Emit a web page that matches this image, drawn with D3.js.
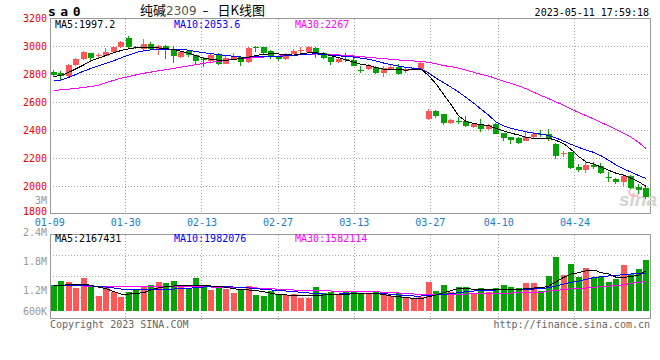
<!DOCTYPE html>
<html>
<head>
<meta charset="utf-8">
<script src="https://cdn.jsdelivr.net/npm/d3@7"></script>
<style>
body { margin: 0; background: #fff; }
text { font-family: "DejaVu Sans Mono", monospace; font-size: 10px; }
</style>
</head>
<body>
<script>
// trading days, 2023
const dates = [
  '01-09','01-10','01-11','01-12','01-13','01-16','01-17','01-18','01-19','01-20',
  '01-30','01-31','02-01','02-02','02-03','02-06','02-07','02-08','02-09','02-10',
  '02-13','02-14','02-15','02-16','02-17','02-20','02-21','02-22','02-23','02-24',
  '02-27','02-28','03-01','03-02','03-03','03-06','03-07','03-08','03-09','03-10',
  '03-13','03-14','03-15','03-16','03-17','03-20','03-21','03-22','03-23','03-24',
  '03-27','03-28','03-29','03-30','03-31','04-03','04-04','04-06','04-07','04-10',
  '04-11','04-12','04-13','04-14','04-17','04-18','04-19','04-20','04-21','04-24',
  '04-25','04-26','04-27','04-28','05-04','05-05','05-08','05-09','05-10','05-11'
]

const open = [2816,2810,2786,2864,2904,2950,2926,2932,2958,2992,
  3059,2993,2980,3016,2975,3000,2973,2922,2962,2933,
  2910,2895,2945,2872,2906,2919,2886,2992,2991,2962,
  2925,2904,2942,2966,2960,2986,2948,2919,2888,2907,
  2900,2830,2833,2848,2805,2836,2852,2821,2829,2833,
  2481,2538,2514,2448,2462,2464,2424,2443,2407,2443,
  2376,2348,2343,2321,2348,2374,2369,2300,2228,2240,
  2133,2114,2150,2143,2062,2050,2031,2071,1990,1983]
const high = [2829,2818,2874,2914,2962,2952,2952,2986,3000,3033,
  3074,3003,3050,3030,3010,3005,2998,2962,2966,2938,
  2919,2950,2952,2926,2952,2926,2990,3002,2996,2970,
  2930,2952,2978,2990,3002,2995,2955,2925,2919,2948,
  2928,2857,2871,2857,2857,2871,2871,2848,2852,2893,
  2550,2545,2514,2479,2495,2500,2452,2479,2443,2452,
  2380,2350,2348,2388,2388,2400,2405,2305,2252,2240,
  2157,2181,2169,2162,2098,2055,2083,2078,2014,1995]
const low = [2778,2756,2780,2860,2900,2888,2907,2928,2955,2988,
  2984,2980,2975,2970,2935,2908,2882,2917,2919,2862,
  2848,2879,2862,2870,2903,2858,2880,2960,2945,2906,
  2895,2900,2940,2945,2955,2912,2910,2864,2876,2888,
  2857,2810,2830,2800,2781,2830,2795,2805,2826,2826,
  2471,2488,2438,2445,2443,2419,2412,2386,2400,2371,
  2324,2300,2298,2318,2345,2348,2324,2193,2210,2119,
  2102,2095,2121,2083,2031,2012,2000,1980,1943,1910]
const close = [2795,2788,2866,2907,2958,2915,2935,2960,2995,3030,
  2992,2990,3015,2976,3000,2972,2932,2957,2933,2895,
  2898,2935,2872,2916,2930,2889,2984,2988,2951,2931,
  2904,2938,2965,2970,2996,2948,2917,2888,2907,2903,
  2860,2826,2860,2810,2840,2852,2800,2836,2843,2881,
  2538,2500,2452,2471,2460,2429,2443,2405,2436,2371,
  2345,2329,2307,2348,2371,2371,2340,2217,2233,2126,
  2114,2150,2133,2090,2058,2029,2074,1983,1971,1925]

const ma5 = [2783,2790,2812,2838,2865,2895,2914,2933,2952,2968,
  2980,2988,2990,2988,2986,2981,2975,2962,2948,2930,
  2912,2905,2898,2897,2905,2910,2920,2933,2940,2945,
  2943,2938,2935,2945,2952,2952,2945,2930,2917,2900,
  2885,2868,2862,2845,2835,2834,2830,2828,2830,2835,
  2788,2728,2652,2580,2500,2460,2447,2438,2432,2410,
  2394,2377,2364,2348,2339,2340,2342,2325,2303,2260,
  2210,2171,2157,2135,2112,2091,2077,2055,2030,1997]
const ma10 = [2752,2757,2776,2798,2821,2840,2860,2876,2895,2916,
  2935,2954,2966,2972,2975,2976,2976,2975,2970,2960,
  2952,2946,2938,2932,2927,2921,2921,2923,2925,2927,
  2928,2929,2933,2938,2942,2944,2940,2935,2930,2926,
  2921,2913,2905,2892,2878,2867,2856,2848,2841,2836,
  2806,2770,2738,2705,2670,2632,2592,2548,2505,2455,
  2430,2412,2399,2387,2377,2370,2360,2342,2320,2297,
  2276,2257,2240,2215,2184,2149,2122,2099,2074,2054]
const ma30 = [2683,2687,2692,2698,2704,2711,2720,2738,2755,2770,
  2782,2794,2805,2814,2823,2831,2840,2849,2858,2867,
  2876,2884,2891,2898,2905,2910,2914,2918,2921,2925,
  2928,2931,2934,2939,2942,2943,2941,2938,2936,2933,
  2929,2924,2919,2914,2910,2905,2900,2897,2893,2890,
  2883,2872,2860,2852,2842,2828,2812,2798,2785,2767,
  2748,2733,2716,2694,2670,2646,2624,2600,2576,2549,
  2525,2502,2479,2453,2429,2404,2377,2348,2311,2267]

// volume, thousands
const volume = [1205,1307,1284,1143,1378,1205,954,1151,1048,931,
  1048,1111,1182,1205,1284,1260,1307,1151,1127,1378,
  1205,1088,1151,1111,1025,1111,1182,970,954,1064,
  986,970,993,907,907,1151,1009,1048,986,1048,
  1048,1025,986,1041,1025,946,1009,931,876,931,
  1276,1072,1205,1048,1151,1151,1009,1127,1048,1127,
  1205,1151,1127,1253,1253,1072,1418,1873,1441,1700,
  1386,1598,1402,1418,1284,1347,1677,1465,1582,1794]
const vma5 = [1182,1198,1213,1221,1229,1198,1151,1119,1048,993,
  993,1009,1025,1088,1143,1166,1182,1190,1198,1198,
  1190,1182,1166,1151,1119,1088,1088,1072,1048,1009,
  978,970,962,954,946,962,970,970,978,986,
  1001,1009,1017,1009,978,946,931,907,891,883,
  931,970,1025,1072,1127,1127,1103,1088,1088,1088,
  1088,1088,1103,1119,1135,1135,1182,1284,1386,1465,
  1496,1543,1559,1496,1465,1386,1386,1402,1441,1543]
const vma10 = [1182,1182,1190,1190,1190,1182,1174,1158,1135,1111,
  1103,1095,1088,1088,1095,1103,1111,1119,1127,1143,
  1158,1166,1166,1166,1158,1151,1135,1119,1103,1088,
  1080,1064,1048,1033,1017,1001,993,993,993,1001,
  1009,1009,1009,1009,1001,986,970,954,946,946,
  954,970,986,1001,1025,1048,1064,1072,1080,1088,
  1088,1095,1103,1103,1111,1119,1143,1182,1229,1268,
  1300,1339,1378,1402,1418,1433,1449,1465,1465,1465]
const vma30 = [1190,1190,1190,1190,1182,1174,1166,1166,1166,1166,
  1166,1166,1166,1166,1174,1174,1174,1174,1174,1166,
  1166,1158,1158,1158,1151,1143,1135,1135,1127,1119,
  1103,1095,1088,1080,1080,1072,1072,1064,1064,1064,
  1064,1064,1056,1048,1033,1025,1017,1009,993,993,
  986,986,986,986,993,993,1001,1001,1009,1009,
  1017,1017,1025,1025,1025,1033,1064,1080,1095,1119,
  1127,1135,1151,1166,1182,1190,1213,1245,1268,1292]

const dateTicks = ['01-09','01-30','02-13','02-27','03-13','03-27','04-10','04-24']
const priceTicks = [3200, 3000, 2800, 2600, 2400, 2200, 2000, 1800]
const volTicks = [2400, 1800, 1200, 600]
const volTickText = ['2.4M', '1.8M', '1.2M', '600K']

const priceLegend = [['MA5:1997.2', '#000'], ['MA10:2053.6', '#00f'], ['MA30:2267', '#f0f']]
const volLegend = [['MA5:2167431', '#000'], ['MA10:1982076', '#00f'], ['MA30:1582114', '#f0f']]

const RED = '#ff5757', GREEN = '#06a306', GRID = '#aaa'

const svg = d3.select('body').append('svg')
    .attr('width', 660).attr('height', 360)

const x = d3.scaleBand().domain(dates).range([50, 650])
const cx = d => x(d) + x.bandwidth() / 2
// the axis marks sit on a slightly wider step than the candles
const gridX = d3.scaleLinear().domain([0, dates.length]).range([49.2, 658.2])
const y = d3.scaleLinear().domain([1800, 3200]).range([214, 18])
const yv = d3.scaleLinear().domain([600, 2400]).range([310.7, 234.3])
// volume labels are not placed on the grid
const yvLabel = d3.scaleLinear().domain([600, 1200, 1800, 2400]).range([311, 290, 261, 232])

const tickIdx = dateTicks.map(t => dates.indexOf(t))

// ---- grid
const grid = svg.append('g')
    .attr('stroke', GRID).attr('stroke-dasharray', '1,2')
    .attr('shape-rendering', 'crispEdges')

grid.selectAll('.hp')
    .data(priceTicks.slice(1, -1))
    .join('line')
        .attr('x1', 50).attr('x2', 650)
        .attr('y1', d => Math.round(y(d)) + 0.5)
        .attr('y2', d => Math.round(y(d)) + 0.5)

grid.selectAll('.hv')
    .data([1, 2, 3])
    .join('line')
        .attr('x1', 50).attr('x2', 650)
        .attr('y1', d => 234.5 + d * 21)
        .attr('y2', d => 234.5 + d * 21)

grid.selectAll('.vp')
    .data(tickIdx.slice(1))
    .join('line')
        .attr('x1', d => Math.round(gridX(d)) + 0.5)
        .attr('x2', d => Math.round(gridX(d)) + 0.5)
        .attr('y1', 19).attr('y2', 213)

grid.selectAll('.vv')
    .data(tickIdx.slice(1))
    .join('line')
        .attr('x1', d => Math.round(gridX(d)) + 0.5)
        .attr('x2', d => Math.round(gridX(d)) + 0.5)
        .attr('y1', 235).attr('y2', 322)

// ---- frames
svg.append('rect')
    .attr('x', 50.5).attr('y', 18.5).attr('width', 600).attr('height', 195)
    .attr('fill', 'none').attr('stroke', '#999').attr('shape-rendering', 'crispEdges')
svg.append('rect')
    .attr('x', 50.5).attr('y', 234.5).attr('width', 600).attr('height', 84)
    .attr('fill', 'none').attr('stroke', '#999').attr('shape-rendering', 'crispEdges')

// ---- watermark
const wm = svg.append('g')
wm.append('text')
    .attr('x', 619).attr('y', 206)
    .style('font-family', '"Liberation Sans", sans-serif')
    .style('font-size', '19px').style('font-style', 'italic').style('font-weight', 'bold')
    .attr('fill', '#d4d4d4')
    .text('sina')
wm.append('ellipse')
    .attr('cx', 634).attr('cy', 192).attr('rx', 5).attr('ry', 4)
    .attr('fill', 'none').attr('stroke', '#f3b0b0').attr('stroke-width', 1.5)

// ---- candles
const candles = svg.append('g').attr('shape-rendering', 'crispEdges')
    .selectAll('g')
    .data(dates)
    .join('g')
        .attr('fill', (d, i) => close[i] > open[i] ? RED : GREEN)
        .attr('stroke', (d, i) => close[i] > open[i] ? RED : GREEN)

candles.append('line')
    .attr('x1', d => Math.round(cx(d) - 3) + 2.5)
    .attr('x2', d => Math.round(cx(d) - 3) + 2.5)
    .attr('y1', (d, i) => y(high[i]))
    .attr('y2', (d, i) => y(low[i]))

candles.append('rect')
    .attr('stroke', 'none')
    .attr('x', d => Math.round(cx(d) - 3))
    .attr('width', 6)
    .attr('y', (d, i) => y(Math.max(open[i], close[i])))
    .attr('height', (d, i) => Math.max(1, Math.abs(y(open[i]) - y(close[i]))))

// ---- volume bars
svg.append('g').attr('shape-rendering', 'crispEdges')
    .selectAll('rect')
    .data(volume)
    .join('rect')
        .attr('fill', (d, i) => close[i] > open[i] ? RED : GREEN)
        .attr('x', (d, i) => Math.round(cx(dates[i]) - 3))
        .attr('width', 6)
        .attr('y', d => yv(d))
        .attr('height', d => yv(600) - yv(d))

// ---- moving averages
function maLine(scale) {
    return d3.line().x((d, i) => cx(dates[i])).y(d => scale(d))
}
const maGroup = svg.append('g').attr('fill', 'none').attr('stroke-width', 1)
    .attr('shape-rendering', 'crispEdges')
;[[ma30, '#f0f'], [ma10, '#00f'], [ma5, '#000']].forEach(([s, c]) =>
    maGroup.append('path').attr('d', maLine(y)(s)).attr('stroke', c))
;[[vma30, '#f0f'], [vma10, '#00f'], [vma5, '#000']].forEach(([s, c]) =>
    maGroup.append('path').attr('d', maLine(yv)(s)).attr('stroke', c))

// ---- legends
const legendX = [55, 174, 295]
svg.append('g').selectAll('text')
    .data(priceLegend)
    .join('text')
        .attr('x', (d, i) => legendX[i]).attr('y', 24)
        .attr('dominant-baseline', 'central')
        .attr('fill', d => d[1]).text(d => d[0])
svg.append('g').selectAll('text')
    .data(volLegend)
    .join('text')
        .attr('x', (d, i) => legendX[i]).attr('y', 238.5)
        .attr('dominant-baseline', 'central')
        .attr('fill', d => d[1]).text(d => d[0])

// ---- axis labels
svg.append('g').selectAll('text')
    .data(priceTicks)
    .join('text')
        .attr('x', 47).attr('y', d => Math.min(y(d), 211.5))
        .attr('text-anchor', 'end').attr('dominant-baseline', 'central')
        .attr('fill', '#e00').text(d => d)

svg.append('text')
    .attr('x', 47).attr('y', 200.5)
    .attr('text-anchor', 'end').attr('dominant-baseline', 'central')
    .attr('fill', '#999').text('3M')

svg.append('g').selectAll('text')
    .data(volTicks)
    .join('text')
        .attr('x', 47).attr('y', d => yvLabel(d))
        .attr('text-anchor', 'end').attr('dominant-baseline', 'central')
        .attr('fill', '#999').text((d, i) => volTickText[i])

svg.append('g').selectAll('text')
    .data(dateTicks)
    .join('text')
        .attr('x', (d, i) => gridX(tickIdx[i]) + 0.5).attr('y', 222)
        .attr('text-anchor', 'middle').attr('dominant-baseline', 'central')
        .attr('fill', '#1a7ccc').text(d => d)

// ---- header and footer
svg.append('text')
    .attr('x', 48).attr('y', 16)
    .style('font-size', '13px').style('font-weight', 'bold').style('letter-spacing', '4.5px')
    .text('sa0')

const title = svg.append('text')
    .attr('x', 140).attr('y', 15)
    .style('font-family', '"Noto Sans CJK SC", sans-serif')
    .style('font-size', '13px')
title.append('tspan').text('纯碱')
title.append('tspan').attr('fill', '#555').style('font-family', '"DejaVu Sans", sans-serif')
    .style('font-size', '12px').text('2309')
title.append('tspan').attr('dx', 6).style('font-family', '"DejaVu Sans", sans-serif')
    .style('font-size', '12px').text('–')
title.append('tspan').attr('dx', 9).text('日K线图')

svg.append('text')
    .attr('x', 649).attr('y', 12)
    .attr('text-anchor', 'end').attr('dominant-baseline', 'central')
    .text('2023-05-11 17:59:18')

svg.append('text')
    .attr('x', 50).attr('y', 324)
    .attr('dominant-baseline', 'central')
    .attr('fill', '#666').text('Copyright 2023 SINA.COM')

svg.append('text')
    .attr('x', 650).attr('y', 324)
    .attr('text-anchor', 'end').attr('dominant-baseline', 'central')
    .attr('fill', '#666').text('http://finance.sina.com.cn')
</script>
</body>
</html>
